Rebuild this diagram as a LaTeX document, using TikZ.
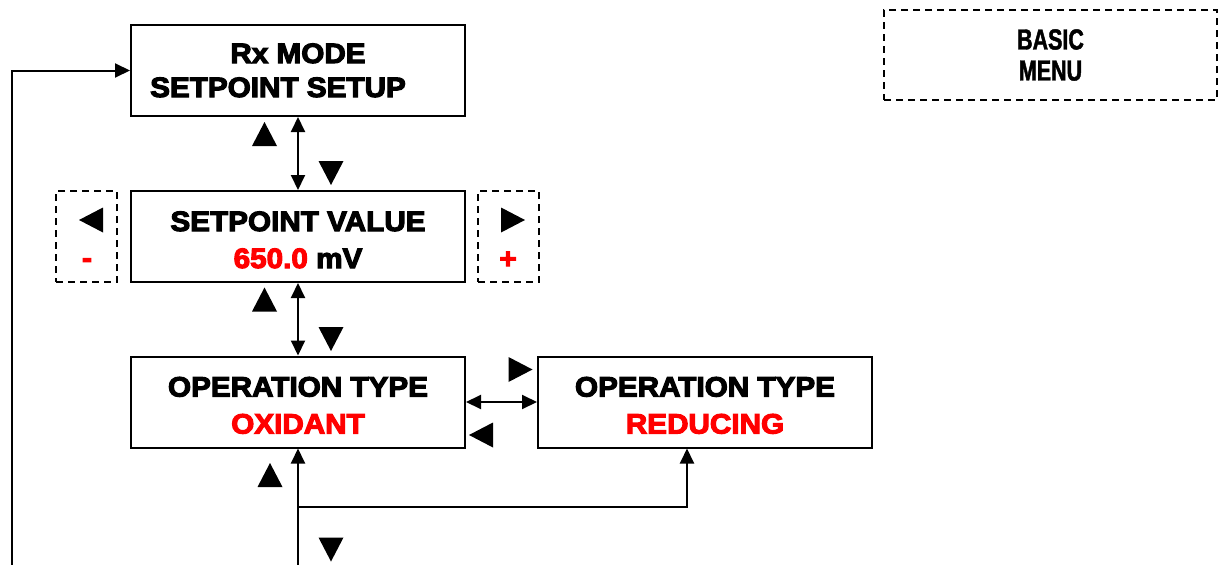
\documentclass[tikz,border=0pt]{standalone}
\usepackage{fontspec}
\newfontfamily\lcdfont{Liberation Sans}[FakeStretch=1.06,FakeBold=4]
\newfontfamily\menufont{Liberation Sans}[FakeStretch=0.74,FakeBold=1.5]
\usetikzlibrary{arrows.meta}
\definecolor{keyred}{rgb}{1.,0.,0.}
\newcommand\upkey[1]{\fill (#1) ++(-12.5,12) -- ++(25,0) -- ++(-12.5,-24) -- cycle;}
\newcommand\downkey[1]{\fill (#1) ++(-12.5,-12) -- ++(25,0) -- ++(-12.5,24) -- cycle;}
\newcommand\leftkey[1]{\fill (#1) ++(12,-12.5) -- ++(0,25) -- ++(-24,-12.5) -- cycle;}
\newcommand\rightkey[1]{\fill (#1) ++(-12,-12.5) -- ++(0,25) -- ++(24,-12.5) -- cycle;}
\begin{document}
\begin{tikzpicture}[x=1pt,y=-1pt,
  screen/.style={draw,line width=2pt,minimum width=334pt,minimum height=91pt,inner sep=0pt,align=center,text height=63pt,text depth=0pt,font=\lcdfont\bfseries\fontsize{28}{37}\selectfont},
  keybox/.style={draw,dash pattern=on 7pt off 5pt,line width=1.4pt,minimum width=61pt,minimum height=91pt,inner sep=0pt},
  keytext/.style={text=keyred,inner sep=0pt,font=\lcdfont\bfseries\fontsize{28}{30}\selectfont},
  link/.style={line width=2pt,-{Triangle[length=15pt,width=14pt]}},
  both/.style={line width=2pt,{Triangle[length=15pt,width=14pt]}-{Triangle[length=15pt,width=14pt]}}]
\useasboundingbox (0,0) rectangle (1227,565);
% screens
\node[screen,text height=53pt,font=\lcdfont\bfseries\fontsize{28}{34}\selectfont] (setup) at (298,70.5) {Rx MODE\\SETPOINT SETUP\hspace*{40pt}};
\node[screen] (value) at (298,236.5) {SETPOINT VALUE\\\textcolor{keyred}{650.0} mV};
\node[screen] (oxidant) at (298,402) {OPERATION TYPE\\\textcolor{keyred}{OXIDANT}};
\node[screen] (reducing) at (705,402) {OPERATION TYPE\\\textcolor{keyred}{REDUCING}};
% keys
\node[keybox] (minusbox) at (86.5,236.5) {};
\node[keybox] (plusbox) at (508.5,236.5) {};
\node[keytext] (minus) at (87,263) {-};
\node[keytext] (plus) at (508,260) {+};
\node[keybox,minimum width=333pt,minimum height=90pt,align=center,font=\menufont\bfseries\fontsize{29}{31}\selectfont] (basic) at (1050.5,55) {BASIC\\MENU};
% links
\coordinate (feed) at (298,565);
\coordinate (fork) at (298,507);
\coordinate (back) at (12,565);
\draw[both] (setup) -- (value);
\draw[both] (value) -- (oxidant);
\draw[both] (oxidant) -- (reducing);
\draw[link] (feed) -- (oxidant);
\draw[link] (fork) -| ([xshift=-18pt]reducing.south);
\draw[link] (back) |- (setup);
% key marks
\upkey{264.5,134} \downkey{331,173}
\upkey{264.5,299.5} \downkey{331,339}
\upkey{270,475} \downkey{331,549.5}
\rightkey{520.5,369.5} \leftkey{481,435}
\leftkey{91,220} \rightkey{513,220}
\end{tikzpicture}
\end{document}
